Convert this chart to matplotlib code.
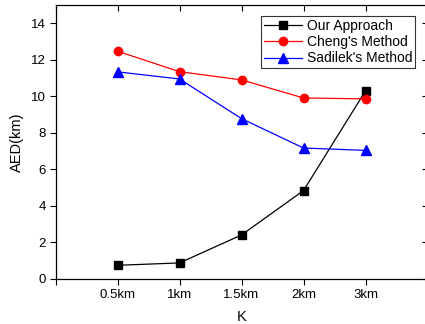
import numpy as np
import matplotlib
matplotlib.use("Agg")
import matplotlib.pyplot as plt

plt.rcParams['font.family'] = ['Liberation Sans', 'DejaVu Sans']

# data
k_labels = ["0.5km", "1km", "1.5km", "2km", "3km"]
our_approach = [0.75, 0.88, 2.41, 4.84, 10.3]
cheng = [12.47, 11.35, 10.9, 9.91, 9.86]
sadilek = [11.34, 10.95, 8.78, 7.17, 7.04]

x = np.arange(1, len(k_labels) + 1)

fig = plt.figure(figsize=(4.25, 3.24), dpi=100)
ax = fig.add_axes([0.1306, 0.1389, 0.8753, 0.8457])

ax.plot(x, our_approach, color="black", marker="s", markersize=5.5, linewidth=0.9, label="Our Approach")
ax.plot(x, cheng, color="red", marker="o", markersize=6, linewidth=0.9, label="Cheng's Method")
ax.plot(x, sadilek, color="blue", marker="^", markersize=6.5, linewidth=0.9, label="Sadilek's Method")

ax.set_xlim(0, 6)
ax.set_ylim(0, 15)
ax.set_xticks(range(0, 7))
ax.set_xticklabels([""] + k_labels + [""])
ax.set_yticks(range(0, 15, 2))

ax.tick_params(axis="both", which="major", direction="out", length=4, width=0.8, labelsize=9.5, pad=3)
ax.tick_params(top=True, right=True, labeltop=False, labelright=False)
for t in ax.xaxis.get_major_ticks():
    t.tick2line.set_marker(matplotlib.lines.TICKDOWN)
for t in ax.yaxis.get_major_ticks():
    t.tick2line.set_marker(matplotlib.lines.TICKLEFT)

for sp in ax.spines.values():
    sp.set_linewidth(0.9)

ax.set_xlabel("K", fontsize=10.5, labelpad=7)
ax.set_ylabel("AED(km)", fontsize=10.5, labelpad=5)

leg = ax.legend(loc="upper right", bbox_to_anchor=(0.966, 0.958), fontsize=10, frameon=True,
                fancybox=False, edgecolor="black", borderpad=0.2, labelspacing=0.15,
                handlelength=2.8, handletextpad=0.3, borderaxespad=0)
leg.get_frame().set_linewidth(0.8)

fig.savefig("out.png", dpi=100)
